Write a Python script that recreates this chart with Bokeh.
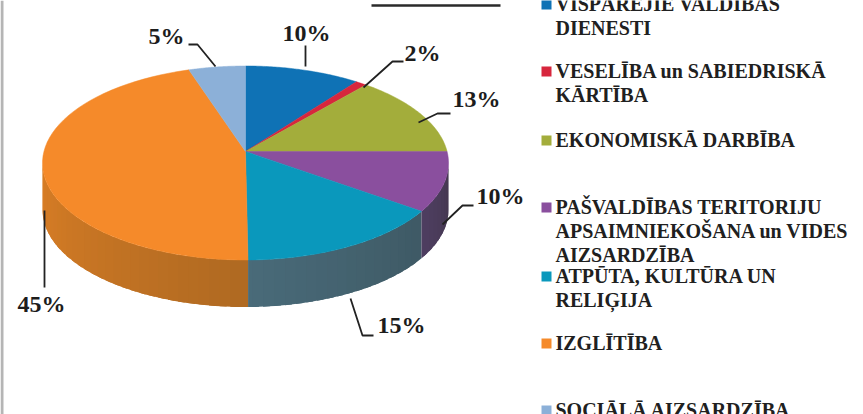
import numpy as np
from bokeh.plotting import figure
from bokeh.core.properties import value
from bokeh.embed import file_html
from bokeh.resources import INLINE

# data
categories = ["VISPĀRĒJIE VALDĪBAS\nDIENESTI", "VESELĪBA un SABIEDRISKĀ\nKĀRTĪBA", "EKONOMISKĀ DARBĪBA",
              "PAŠVALDĪBAS TERITORIJU\nAPSAIMNIEKOŠANA un VIDES\nAIZSARDZĪBA", "ATPŪTA, KULTŪRA UN\nRELIĢIJA",
              "IZGLĪTĪBA", "SOCIĀLĀ AIZSARDZĪBA"]
shown_labels = ["10%", "2%", "13%", "10%", "15%", "45%", "5%"]
shares = [9.2, 0.9, 13.0, 10.2, 16.5, 45.7, 4.5]   # angular shares as drawn (3D perspective)
colors = ["#0F72B5", "#D7263D", "#A3AD3B", "#8A4F9E", "#0A98BC", "#F58A2A", "#8CB0D8"]
side_left = ["#0F72B5", "#D7263D", "#A3AD3B", "#45384F", "#3F5A66", "#B06A22", "#8CB0D8"]
side_right = ["#0F72B5", "#D7263D", "#A3AD3B", "#4F3F63", "#4A6C7A", "#DB7F26", "#8CB0D8"]

# layout in picture pixels
W, H = 863, 414
cx, cy, rx, ry, depth = 245, 162.5, 203, 97, 47
ax_, ay_ = 245, 151
label_pos = [(306, 32), (422, 52), (476, 98), (500, 195), (401, 324), (41, 303), (166, 35)]
leaders = [[(305, 45), (305, 66)], [(363, 87), (392, 61), (403, 61)], [(418, 122), (437, 113), (450, 113)],
           [(442, 224), (462, 205), (473, 205)], [(350, 298), (362, 335), (373, 335)],
           [(44, 210), (44, 287)], [(188, 44), (197, 44), (215, 66)]]
legend_rows = [(3, 27), (70, 94), (139,), (206, 230, 254), (275, 299), (342,), (409,)]
leg_text_x, sw_x, sw = 555, 541, 10

p = figure(width=W, height=H, x_range=(0, W), y_range=(H, 0), toolbar_location=None,
           output_backend="svg", min_border=0, background_fill_color="white", border_fill_color="white",
           outline_line_color=None)
p.styles = {"position": "absolute", "left": "0", "top": "0"}
p.axis.visible = False
p.grid.visible = False

def pt(t):
    return cx + rx * np.sin(t), cy - ry * np.cos(t)

def hex2(c):
    return np.array([int(c[i:i + 2], 16) for i in (1, 3, 5)], float)

edges = np.radians(np.cumsum([0] + shares) * 3.6)

# side wall (only front half); each strip overlaps the next so no seams show
xs, ys, cs = [], [], []
for i in range(len(shares)):
    a, b = max(edges[i], np.pi / 2), min(edges[i + 1], 3 * np.pi / 2)
    if b <= a:
        continue
    n = max(2, int((b - a) / np.radians(3)))
    ts = np.linspace(a, b, n + 1)
    for j in range(n):
        t1 = min(ts[j + 1] + np.radians(2), b)
        mid = np.linspace(ts[j], t1, 4)
        x, y = pt(mid)
        xs.append(np.r_[x, x[::-1]]); ys.append(np.r_[y, y[::-1] + depth])
        f = (j + .5) / n
        c = hex2(side_left[i]) * (1 - f) + hex2(side_right[i]) * f
        cs.append("#%02x%02x%02x" % tuple(int(v) for v in c))
order = np.argsort([np.mean(q) for q in xs])
p.patches([xs[k] for k in order], [ys[k] for k in order], fill_color=[cs[k] for k in order], line_color=None)

# top face
for i in range(len(shares)):
    ts = np.linspace(edges[i], edges[i + 1], 60)
    x, y = pt(ts)
    p.patch(np.r_[ax_, x], np.r_[ay_, y], fill_color=colors[i], line_color=colors[i], line_width=0.5)

# leaders and percentage labels
for pts in leaders:
    p.line([q[0] for q in pts], [q[1] for q in pts], line_color="#222222", line_width=1.8)
p.text([q[0] for q in label_pos], [q[1] for q in label_pos], text=shown_labels, text_font=value("Liberation Serif"),
       text_font_style="bold", text_font_size="24px", text_color="#1c1c1c", text_align="center", text_baseline="middle")

# legend
for cat, col, rows in zip(categories, colors, legend_rows):
    lines = cat.split("\n")
    p.text([leg_text_x] * len(lines), list(rows), text=lines, text_font=value("Liberation Serif"),
           text_font_style="bold", text_font_size="20px", text_color="#202020", text_align="left", text_baseline="middle")
    p.quad(left=[sw_x], right=[sw_x + sw], top=[rows[0] - 4], bottom=[rows[0] + 6], fill_color=col, line_color=None)

# title underline (title itself is cropped off the top of the picture)
p.line([371, 500], [5, 5], line_color="#2a2a2a", line_width=2.5)

# frame line at left
p.quad(left=[0], right=[3], top=[0], bottom=[H], fill_color="#B5B5B5", line_color=None)

open("out.html", "w").write(file_html(p, INLINE))
